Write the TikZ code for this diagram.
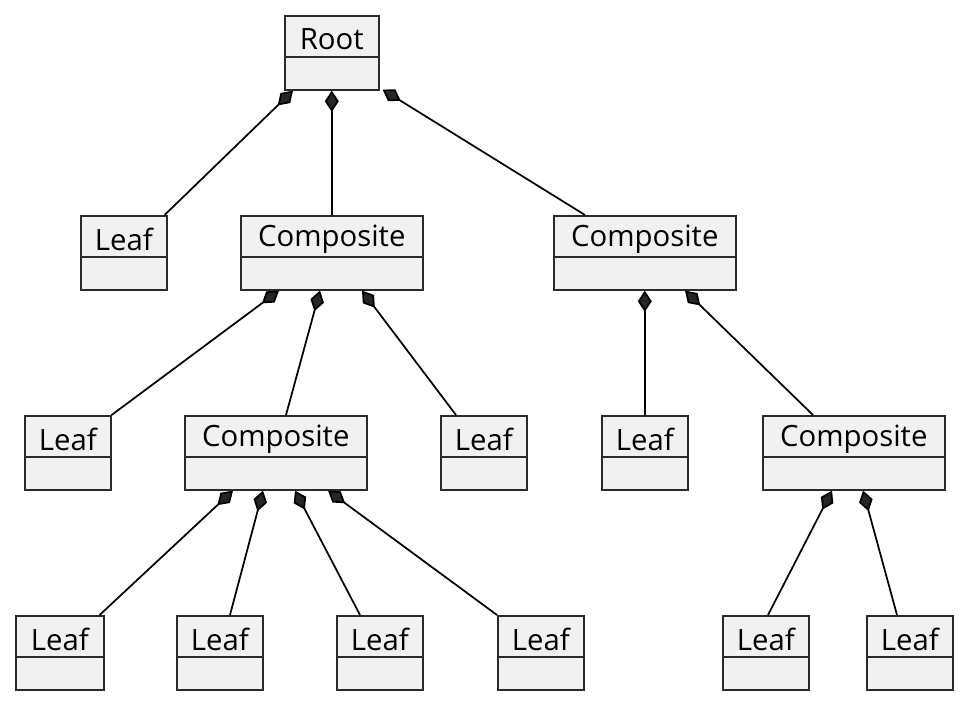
\documentclass[tikz,border=0pt]{standalone}
\usepackage{fontspec}
\setmainfont{Open Sans}
\usetikzlibrary{arrows.meta,calc}
\definecolor{boxfill}{HTML}{F1F1F1}
\definecolor{boxline}{HTML}{2A2A2A}
\tikzset{
  cls/.style={draw=boxline, fill=boxfill, line width=1.2pt, inner sep=0pt, rectangle},
  lbl/.style={font=\fontsize{22}{26}\selectfont, text=black, inner sep=0pt},
  sepline/.style={draw=boxline, line width=1.2pt},
  comp/.style={draw=black, line width=1.3pt, {Diamond[length=16pt,width=10.5pt,fill=black!85]}-},
}
\newcommand\umlclass[5]{%
  \node[cls, anchor=north west, minimum width=#4*0.75pt, minimum height=74*0.75pt] (#1) at (#2,#3) {};
  \draw[sepline] ($(#1.north west)+(0,42)$) -- ($(#1.north east)+(0,42)$);
  \node[lbl] (#1-t) at ($(#1.north)+(0,24)$) {#5};
}
\begin{document}
\begin{tikzpicture}[x=0.75pt,y=-0.75pt]
\useasboundingbox (0,0) rectangle (963,700);
% row 0
\umlclass{root}{284}{15}{94}{Root}
% row 1
\umlclass{leafA}{80}{215}{86}{Leaf}
\umlclass{compA}{240}{215}{182}{Composite}
\umlclass{compB}{553}{215}{182}{Composite}
% row 2
\umlclass{leafB}{24}{415}{86}{Leaf}
\umlclass{compC}{184}{415}{182}{Composite}
\umlclass{leafC}{440}{415}{86}{Leaf}
\umlclass{leafD}{601}{415}{86}{Leaf}
\umlclass{compD}{762}{415}{182}{Composite}
% row 3
\umlclass{leafE}{15}{615}{88}{Leaf}
\umlclass{leafF}{176}{615}{86}{Leaf}
\umlclass{leafG}{336}{615}{86}{Leaf}
\umlclass{leafH}{497}{615}{86}{Leaf}
\umlclass{leafI}{722}{615}{86}{Leaf}
\umlclass{leafJ}{866}{615}{86}{Leaf}
% connectors
\draw[comp] ($(root.south west)+(9,0)$) -- ($(leafA.north east)+(-3,0)$);
\draw[comp] (root.south) -- (compA.north);
\draw[comp] ($(root.south east)+(3,-1)$) -- ($(compB.north west)+(32,0)$);
\draw[comp] ($(compA.south west)+(39,0)$) -- (leafB.north east);
\draw[comp] ($(compA.south west)+(80,0)$) -- ($(compC.north west)+(102,0)$);
\draw[comp] ($(compA.south west)+(122,0)$) -- ($(leafC.north west)+(16,0)$);
\draw[comp] (compB.south) -- (leafD.north);
\draw[comp] ($(compB.south west)+(132,0)$) -- ($(compD.north west)+(51,0)$);
\draw[comp] ($(compC.south west)+(49,0)$) -- ($(leafE.north east)+(-5,0)$);
\draw[comp] ($(compC.south west)+(79,0)$) -- ($(leafF.north west)+(54,0)$);
\draw[comp] ($(compC.south west)+(111,0)$) -- ($(leafG.north west)+(24,0)$);
\draw[comp] ($(compC.south west)+(144,0)$) -- (leafH.north west);
\draw[comp] ($(compD.south west)+(70,0)$) -- ($(leafI.north west)+(46,0)$);
\draw[comp] ($(compD.south west)+(101,0)$) -- ($(leafJ.north west)+(31,0)$);
\end{tikzpicture}
\end{document}
